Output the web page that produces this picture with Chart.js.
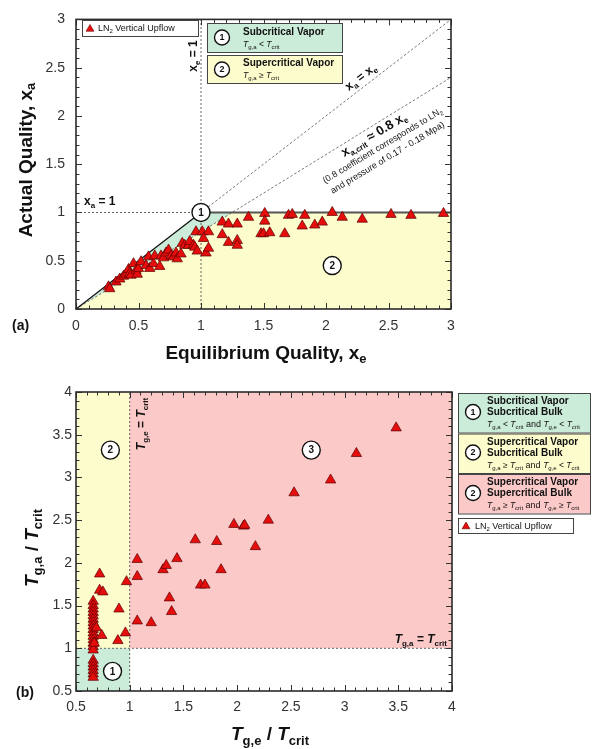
<!DOCTYPE html>
<html>
<head>
<meta charset="utf-8">
<script src="https://cdn.jsdelivr.net/npm/chart.js@4.4.0/dist/chart.umd.min.js"></script>
<style>
    body { margin: 0; background: #fff; }
    #wrap { position: relative; width: 592px; height: 749px; }
    canvas { position: absolute; left: 0; }
    #quality-chart { top: 0; }
    #temp-chart { top: 370px; }
</style>
</head>
<body>
<div id="wrap">
    <canvas id="quality-chart" width="592" height="370"></canvas>
    <canvas id="temp-chart" width="592" height="379"></canvas>
</div>
<script>
// (a) equilibrium quality vs actual quality, LN2 vertical upflow
var xeValues = [0.26, 0.27, 0.32, 0.35, 0.38, 0.40, 0.42, 0.43, 0.44, 0.46, 0.48, 0.49, 0.50, 0.52,
    0.56, 0.58, 0.59, 0.62, 0.63, 0.67, 0.68, 0.70, 0.72, 0.74, 0.76, 0.78, 0.80, 0.81, 0.84,
    0.85, 0.87, 0.90, 0.91, 0.94, 0.95, 0.97, 0.96, 1.01, 1.06, 1.02, 1.04, 1.06,
    1.17, 1.22, 1.29, 1.38, 1.51, 1.51, 1.48, 1.50, 1.55, 1.67, 1.70, 1.73, 1.81, 1.83,
    1.17, 1.22, 1.29, 1.29, 1.91, 1.97, 2.05, 2.13, 2.29, 2.52, 2.68, 2.94];
var xaValues = [0.23, 0.21, 0.28, 0.31, 0.34, 0.36, 0.41, 0.37, 0.35, 0.47, 0.40, 0.36, 0.42, 0.49,
    0.45, 0.54, 0.42, 0.47, 0.55, 0.44, 0.55, 0.53, 0.58, 0.61, 0.55, 0.54, 0.58, 0.52, 0.57,
    0.68, 0.66, 0.66, 0.70, 0.66, 0.64, 0.60, 0.80, 0.80, 0.80, 0.73, 0.58, 0.63,
    0.90, 0.88, 0.88, 0.95, 0.99, 0.91, 0.78, 0.78, 0.79, 0.78, 0.97, 0.98, 0.86, 0.97,
    0.77, 0.69, 0.71, 0.66, 0.87, 0.90, 1.00, 0.95, 0.93, 0.98, 0.97, 0.99];

// (b) temperature ratios
var tgeValues = [0.66, 0.66, 0.66, 0.66, 0.66, 0.66, 0.66, 0.66, 0.66, 0.66, 0.66, 0.66, 0.66, 0.66, 0.66,
    0.66, 0.66, 0.66, 0.66, 0.66, 0.66,
    0.67, 0.69, 0.74, 0.72, 0.72, 0.75, 0.90, 0.89, 0.96, 0.97,
    1.07, 1.07, 1.07, 1.20, 1.31, 1.34, 1.44, 1.37, 1.39, 1.61, 1.66, 1.70, 1.81, 1.85,
    1.97, 2.06, 2.07, 2.17, 2.29, 2.53, 2.87, 3.11, 3.48];
var tgaValues = [1.55, 1.50, 1.46, 1.42, 1.38, 1.34, 1.30, 1.26, 1.22, 1.18, 1.14, 1.10, 1.06, 1.02, 0.98,
    0.86, 0.82, 0.78, 0.74, 0.70, 0.66,
    1.06, 1.24, 1.15, 1.87, 1.68, 1.66, 1.46, 1.09, 1.18, 1.78,
    2.04, 1.84, 1.32, 1.30, 1.92, 1.97, 2.05, 1.59, 1.43, 2.27, 1.74, 1.74, 2.25, 1.92,
    2.45, 2.43, 2.44, 2.19, 2.50, 2.82, 2.97, 3.28, 3.58];

var qualityTicks = [0, 0.5, 1, 1.5, 2, 2.5, 3];
var tempTicks = [0.5, 1, 1.5, 2, 2.5, 3, 3.5, 4];

var FONT = '"Liberation Sans", Arial, Helvetica, sans-serif';
var GREEN = '#cbecd9', YELLOW = '#fdfccd', PINK = '#fcc9c9';
var RED = '#e60d0d';

// draws a run of text pieces: [text, font, baseline shift]
function richText(ctx, parts, x, y, align) {
    var w = 0;
    parts.forEach(function (p) { ctx.font = p[1]; w += ctx.measureText(p[0]).width; });
    var cx = align === 'center' ? x - w / 2 : (align === 'right' ? x - w : x);
    ctx.textAlign = 'left';
    parts.forEach(function (p) {
        ctx.font = p[1];
        ctx.fillText(p[0], cx, y + (p[2] || 0));
        cx += ctx.measureText(p[0]).width;
    });
}

function pt(chart, x, y) {
    return [chart.scales.x.getPixelForValue(x), chart.scales.y.getPixelForValue(y)];
}

function polygon(chart, verts, color) {
    var ctx = chart.ctx;
    ctx.beginPath();
    verts.forEach(function (v, i) {
        var p = pt(chart, v[0], v[1]);
        if (i === 0) ctx.moveTo(p[0], p[1]); else ctx.lineTo(p[0], p[1]);
    });
    ctx.closePath();
    ctx.fillStyle = color;
    ctx.fill();
}

function segment(chart, verts, color, width, dash) {
    var ctx = chart.ctx;
    ctx.save();
    ctx.beginPath();
    verts.forEach(function (v, i) {
        var p = pt(chart, v[0], v[1]);
        if (i === 0) ctx.moveTo(p[0], p[1]); else ctx.lineTo(p[0], p[1]);
    });
    ctx.strokeStyle = color;
    ctx.lineWidth = width;
    ctx.setLineDash(dash || []);
    ctx.stroke();
    ctx.restore();
}

function circleLabel(ctx, x, y, r, txt) {
    ctx.save();
    ctx.beginPath();
    ctx.arc(x, y, r, 0, Math.PI * 2);
    ctx.fillStyle = '#fff';
    ctx.fill();
    ctx.lineWidth = 1.4;
    ctx.strokeStyle = '#111';
    ctx.stroke();
    ctx.fillStyle = '#111';
    ctx.font = 'bold ' + Math.round(r * 1.15) + 'px ' + FONT;
    ctx.textAlign = 'center';
    ctx.textBaseline = 'middle';
    ctx.fillText(txt, x, y + 0.5);
    ctx.restore();
}

function triangleMark(ctx, x, y, r) {
    ctx.beginPath();
    ctx.moveTo(x, y - r);
    ctx.lineTo(x + r * 0.87, y + r * 0.5);
    ctx.lineTo(x - r * 0.87, y + r * 0.5);
    ctx.closePath();
    ctx.fillStyle = RED;
    ctx.fill();
    ctx.lineWidth = 0.6;
    ctx.strokeStyle = '#600';
    ctx.stroke();
}

function box(ctx, x, y, w, h, fill) {
    ctx.fillStyle = fill;
    ctx.fillRect(x, y, w, h);
    ctx.lineWidth = 1;
    ctx.strokeStyle = '#444';
    ctx.strokeRect(x + 0.5, y + 0.5, w, h);
}

// frame with inward major/minor ticks on all four sides
function drawFrame(chart, minor, major) {
    var ctx = chart.ctx, a = chart.chartArea, xs = chart.scales.x, ys = chart.scales.y;
    ctx.save();
    ctx.strokeStyle = '#333';
    ctx.lineWidth = 1;
    var i, v, p, len;
    for (i = 0; ; i++) {
        v = xs.min + i * minor;
        if (v > xs.max + 1e-9) break;
        p = Math.round(xs.getPixelForValue(v)) + 0.5;
        len = Math.abs(v / major - Math.round(v / major)) < 1e-6 ? 6 : 3.5;
        ctx.beginPath();
        ctx.moveTo(p, a.bottom); ctx.lineTo(p, a.bottom - len);
        ctx.moveTo(p, a.top); ctx.lineTo(p, a.top + len);
        ctx.stroke();
    }
    for (i = 0; ; i++) {
        v = ys.min + i * minor;
        if (v > ys.max + 1e-9) break;
        p = Math.round(ys.getPixelForValue(v)) + 0.5;
        len = Math.abs(v / major - Math.round(v / major)) < 1e-6 ? 6 : 3.5;
        ctx.beginPath();
        ctx.moveTo(a.left, p); ctx.lineTo(a.left + len, p);
        ctx.moveTo(a.right, p); ctx.lineTo(a.right - len, p);
        ctx.stroke();
    }
    ctx.lineWidth = 1.6;
    ctx.strokeStyle = '#2a2a2a';
    ctx.strokeRect(a.left, a.top, a.right - a.left, a.bottom - a.top);
    ctx.restore();
}

function rotatedText(ctx, x, y, angle, fn) {
    ctx.save();
    ctx.translate(x, y);
    ctx.rotate(angle);
    fn();
    ctx.restore();
}

function scatterData(xs, ys) {
    return xs.map(function (v, i) { return { x: v, y: ys[i] }; });
}

function pointDataset(xs, ys) {
    return {
        type: 'scatter',
        data: scatterData(xs, ys),
        pointStyle: 'triangle',
        pointRadius: 6,
        backgroundColor: RED,
        borderColor: '#5a0000',
        borderWidth: 0.7
    };
}

function axis(ticks, minV, maxV, padding, fixed, isX) {
    var cfg = {
        type: 'linear',
        min: minV,
        max: maxV,
        grid: { display: false, drawTicks: false },
        border: { display: false },
        ticks: {
            color: '#333',
            font: { family: FONT, size: 14 },
            padding: padding,
            maxRotation: 0,
            autoSkip: false,
            callback: function (v) { return String(v); }
        },
        afterBuildTicks: function (s) {
            s.ticks = ticks.map(function (v) { return { value: v }; });
        }
    };
    cfg.afterFit = isX ? function (s) { s.height = fixed; } : function (s) { s.width = fixed; };
    return cfg;
}

var sub = function (size) { return size + 'px ' + FONT; };

// ---------- (a) quality chart ----------
var qualityPlugin = {
    id: 'quality-decor',
    beforeDatasetsDraw: function (chart) {
        var ctx = chart.ctx, a = chart.chartArea;
        ctx.save();
        ctx.beginPath();
        ctx.rect(a.left, a.top, a.right - a.left, a.bottom - a.top);
        ctx.clip();
        polygon(chart, [[0, 0], [1.25, 1], [3, 1], [3, 0]], YELLOW);
        polygon(chart, [[0, 0], [1, 1], [1.25, 1]], GREEN);
        segment(chart, [[1, 0], [1, 3]], '#555', 0.9, [2, 2]);
        segment(chart, [[0, 1], [1, 1]], '#555', 0.9, [2, 2]);
        segment(chart, [[1, 1], [3, 3]], '#555', 0.8, [2.5, 2]);
        segment(chart, [[0, 0], [3, 2.4]], '#555', 0.8, [2.5, 2]);
        segment(chart, [[1, 1], [3, 1]], '#555', 2);
        segment(chart, [[0, 0], [1, 1]], '#111', 1.3);
        ctx.restore();
    },
    afterDatasetsDraw: function (chart) {
        var ctx = chart.ctx;
        drawFrame(chart, 0.1, 0.5);
        ctx.save();
        ctx.fillStyle = '#111';
        ctx.textBaseline = 'alphabetic';

        var c1 = pt(chart, 1, 1);
        circleLabel(ctx, c1[0], c1[1], 9, '1');
        var c2 = pt(chart, 2.05, 0.45);
        circleLabel(ctx, c2[0], c2[1], 9, '2');

        // x_a = 1
        richText(ctx, [['x', 'bold 12px ' + FONT], ['a', 'bold 8px ' + FONT, 3], [' = 1', 'bold 12px ' + FONT]], 84, 205, 'left');
        // x_e = 1 (vertical)
        rotatedText(ctx, 197, 56, -Math.PI / 2, function () {
            richText(ctx, [['x', 'bold 12px ' + FONT], ['e', 'bold 8px ' + FONT, 3], [' = 1', 'bold 12px ' + FONT]], 0, 0, 'center');
        });
        // x_a = x_e along the diagonal
        rotatedText(ctx, 363, 80, -38 * Math.PI / 180, function () {
            richText(ctx, [['x', 'bold 12px ' + FONT], ['a', 'bold 8px ' + FONT, 3], [' = x', 'bold 12px ' + FONT], ['e', 'bold 8px ' + FONT, 3]], 0, 0, 'center');
        });
        // critical quality line notes
        rotatedText(ctx, 376, 138, -31 * Math.PI / 180, function () {
            richText(ctx, [['x', 'bold 13px ' + FONT], ['a,crit', 'bold 8px ' + FONT, 3], [' \u2248 0.8 x', 'bold 13px ' + FONT], ['e', 'bold 8px ' + FONT, 3]], 0, 0, 'center');
        });
        rotatedText(ctx, 384, 148, -31 * Math.PI / 180, function () {
            richText(ctx, [['(0.8 coefficient corresponds to LN', sub(9)], ['2', sub(6), 2]], 0, 0, 'center');
        });
        rotatedText(ctx, 389, 160, -31 * Math.PI / 180, function () {
            richText(ctx, [['and pressure of 0.17 - 0.18 Mpa)', sub(9)]], 0, 0, 'center');
        });

        // legend: data series
        box(ctx, 82, 20, 116, 16, '#fff');
        triangleMark(ctx, 90, 29, 4.5);
        ctx.fillStyle = '#111';
        richText(ctx, [['LN', sub(9)], ['2', sub(6), 2], [' Vertical Upflow', sub(9)]], 98, 31, 'left');

        // legend: regions
        box(ctx, 207, 23, 135, 29, GREEN);
        circleLabel(ctx, 222, 37.5, 7.5, '1');
        ctx.fillStyle = '#111';
        richText(ctx, [['Subcritical Vapor', 'bold 10px ' + FONT]], 243, 35, 'left');
        richText(ctx, [['T', 'italic 8.5px ' + FONT], ['g,a', sub(6), 2], [' < ', sub(8.5)], ['T', 'italic 8.5px ' + FONT], ['crit', sub(6), 2]], 243, 47, 'left');

        box(ctx, 207, 55, 135, 28, YELLOW);
        circleLabel(ctx, 222, 69.5, 7.5, '2');
        ctx.fillStyle = '#111';
        richText(ctx, [['Supercritical Vapor', 'bold 10px ' + FONT]], 243, 66, 'left');
        richText(ctx, [['T', 'italic 8.5px ' + FONT], ['g,a', sub(6), 2], [' \u2265 ', sub(8.5)], ['T', 'italic 8.5px ' + FONT], ['crit', sub(6), 2]], 243, 78, 'left');

        // axis titles
        rotatedText(ctx, 27, 160, -Math.PI / 2, function () {
            ctx.textBaseline = 'middle';
            richText(ctx, [['Actual Quality, x', 'bold 19px ' + FONT], ['a', 'bold 13px ' + FONT, 4]], 0, 0, 'center');
        });
        ctx.textBaseline = 'alphabetic';
        richText(ctx, [['Equilibrium Quality, x', 'bold 19px ' + FONT], ['e', 'bold 13px ' + FONT, 4]], 266, 359, 'center');
        richText(ctx, [['(a)', 'bold 14px ' + FONT]], 12, 330, 'left');
        ctx.restore();
    }
};

new Chart(document.getElementById('quality-chart'), {
    type: 'scatter',
    data: { datasets: [pointDataset(xeValues, xaValues)] },
    options: {
        responsive: false,
        animation: false,
        devicePixelRatio: 1,
        layout: { padding: { left: 0, right: 141, top: 13, bottom: 0 } },
        plugins: { legend: { display: false }, tooltip: { enabled: false } },
        scales: {
            x: axis(qualityTicks, 0, 3, 9, 61, true),
            y: axis(qualityTicks, 0, 3, 11, 76, false)
        }
    },
    plugins: [qualityPlugin]
});

// ---------- (b) temperature chart ----------
var mathLine = function (rel1, rel2) {
    return [['T', 'italic 8.5px ' + FONT], ['g,a', sub(6), 2], [rel1, sub(8.5)], ['T', 'italic 8.5px ' + FONT], ['crit', sub(6), 2],
        [' and ', sub(9)],
        ['T', 'italic 8.5px ' + FONT], ['g,e', sub(6), 2], [rel2, sub(8.5)], ['T', 'italic 8.5px ' + FONT], ['crit', sub(6), 2]];
};

var tempPlugin = {
    id: 'temp-decor',
    beforeDatasetsDraw: function (chart) {
        polygon(chart, [[0.5, 0.5], [1, 0.5], [1, 1], [0.5, 1]], GREEN);
        polygon(chart, [[0.5, 1], [1, 1], [1, 4], [0.5, 4]], YELLOW);
        polygon(chart, [[1, 1], [4, 1], [4, 4], [1, 4]], PINK);
        segment(chart, [[1, 0.5], [1, 4]], '#555', 0.9, [2, 2]);
        segment(chart, [[0.5, 1], [4, 1]], '#555', 0.9, [2, 2]);
    },
    afterDatasetsDraw: function (chart) {
        var ctx = chart.ctx;
        drawFrame(chart, 0.1, 0.5);
        ctx.save();
        ctx.fillStyle = '#111';

        var p;
        p = pt(chart, 0.84, 0.73); circleLabel(ctx, p[0], p[1], 9, '1');
        p = pt(chart, 0.82, 3.32); circleLabel(ctx, p[0], p[1], 9, '2');
        p = pt(chart, 2.69, 3.32); circleLabel(ctx, p[0], p[1], 9, '3');

        ctx.fillStyle = '#111';
        rotatedText(ctx, 145, 54, -Math.PI / 2, function () {
            richText(ctx, [['T', 'bold italic 12px ' + FONT], ['g,e', 'bold 8px ' + FONT, 3], [' = ', 'bold 12px ' + FONT], ['T', 'bold italic 12px ' + FONT], ['crit', 'bold 8px ' + FONT, 3]], 0, 0, 'center');
        });
        richText(ctx, [['T', 'bold italic 12px ' + FONT], ['g,a', 'bold 8px ' + FONT, 3], [' = ', 'bold 12px ' + FONT], ['T', 'bold italic 12px ' + FONT], ['crit', 'bold 8px ' + FONT, 3]], 447, 273, 'right');

        // legend
        var rows = [
            [GREEN, '1', 'Subcritical Vapor', 'Subcritical Bulk', mathLine(' < ', ' < ')],
            [YELLOW, '2', 'Supercritical Vapor', 'Subcritical Bulk', mathLine(' \u2265 ', ' < ')],
            [PINK, '2', 'Supercritical Vapor', 'Supercritical Bulk', mathLine(' \u2265 ', ' \u2265 ')]
        ];
        rows.forEach(function (r, i) {
            var top = 23 + i * 40.5;
            box(ctx, 458, top, 132, 39.5, r[0]);
            circleLabel(ctx, 473, top + 19, 7.5, r[1]);
            ctx.fillStyle = '#111';
            richText(ctx, [[r[2], 'bold 10px ' + FONT]], 487, top + 11, 'left');
            richText(ctx, [[r[3], 'bold 10px ' + FONT]], 487, top + 22, 'left');
            richText(ctx, r[4], 487, top + 34, 'left');
        });
        box(ctx, 458, 148, 115, 15, '#fff');
        triangleMark(ctx, 466, 156.5, 4.5);
        ctx.fillStyle = '#111';
        richText(ctx, [['LN', sub(9)], ['2', sub(6), 2], [' Vertical Upflow', sub(9)]], 475, 159, 'left');

        // axis titles
        rotatedText(ctx, 33, 178, -Math.PI / 2, function () {
            ctx.textBaseline = 'middle';
            richText(ctx, [['T', 'bold italic 19px ' + FONT], ['g,a', 'bold 13px ' + FONT, 5], [' / ', 'bold 19px ' + FONT], ['T', 'bold italic 19px ' + FONT], ['crit', 'bold 13px ' + FONT, 5]], 0, 0, 'center');
        });
        ctx.textBaseline = 'alphabetic';
        richText(ctx, [['T', 'bold italic 19px ' + FONT], ['g,e', 'bold 13px ' + FONT, 5], [' / ', 'bold 19px ' + FONT], ['T', 'bold italic 19px ' + FONT], ['crit', 'bold 13px ' + FONT, 5]], 270, 370, 'center');
        richText(ctx, [['(b)', 'bold 14px ' + FONT]], 16, 327, 'left');
        ctx.restore();
    }
};

new Chart(document.getElementById('temp-chart'), {
    type: 'scatter',
    data: { datasets: [pointDataset(tgeValues, tgaValues)] },
    options: {
        responsive: false,
        animation: false,
        devicePixelRatio: 1,
        layout: { padding: { left: 0, right: 140, top: 22, bottom: 0 } },
        plugins: { legend: { display: false }, tooltip: { enabled: false } },
        scales: {
            x: axis(tempTicks, 0.5, 4, 8, 58, true),
            y: axis(tempTicks, 0.5, 4, 4, 76, false)
        }
    },
    plugins: [tempPlugin]
});
</script>
</body>
</html>
